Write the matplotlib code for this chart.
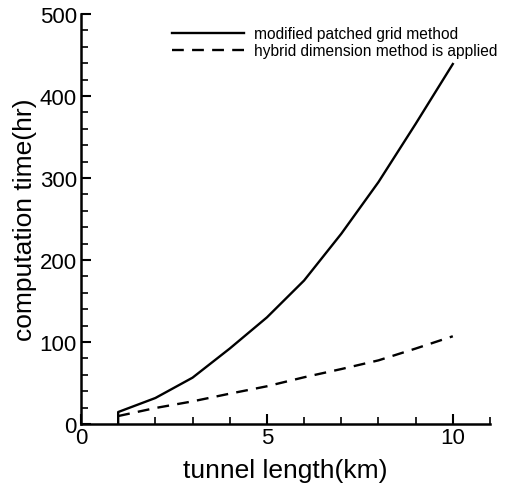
import matplotlib.pyplot as plt
from matplotlib.ticker import MultipleLocator

plt.rcParams['font.family'] = ['Liberation Sans', 'DejaVu Sans']

# tunnel length (km)
length_patched = [1, 1, 2, 3, 4, 5, 6, 7, 8, 9, 10]
time_patched = [0, 14.6, 31.7, 56.5, 92, 130, 175, 232, 295, 366, 439]

length_hybrid = [1, 2, 3, 4, 5, 6, 7, 8, 9, 10]
time_hybrid = [9.7, 19.5, 27.6, 37, 46, 57, 67, 77.6, 92, 107]

fig = plt.figure(figsize=(5.11, 4.85), dpi=100)
ax = fig.add_axes([0.1585, 0.1237, 0.8004, 0.8454])

ax.plot(length_patched, time_patched, color='black', lw=1.7,
        label='modified patched grid method')
ax.plot(length_hybrid, time_hybrid, color='black', lw=1.7, ls=(0, (5, 3.5)),
        label='hybrid dimension method is applied')

ax.set_xlim(0, 11)
ax.set_ylim(0, 500)
ax.xaxis.set_major_locator(MultipleLocator(5))
ax.xaxis.set_minor_locator(MultipleLocator(1))
ax.yaxis.set_major_locator(MultipleLocator(100))
ax.yaxis.set_minor_locator(MultipleLocator(20))

for side in ['top', 'right']:
    ax.spines[side].set_visible(False)
for side in ['left', 'bottom']:
    ax.spines[side].set_linewidth(1.8)

ax.tick_params(which='major', direction='in', length=7, width=1.5, labelsize=16, pad=2)
ax.tick_params(axis='y', which='major', pad=3)
ax.tick_params(which='minor', direction='in', length=5, width=1.2)

ax.set_xlabel('tunnel length(km)', fontsize=19, labelpad=7)
ax.set_ylabel('computation time(hr)', fontsize=19, labelpad=2)

ax.legend(loc='upper right', bbox_to_anchor=(1.045, 0.997), frameon=False,
          fontsize=11.2, handlelength=4.6, handletextpad=0.65,
          labelspacing=0.15, borderpad=0.2)

fig.savefig('out.png', dpi=100)
